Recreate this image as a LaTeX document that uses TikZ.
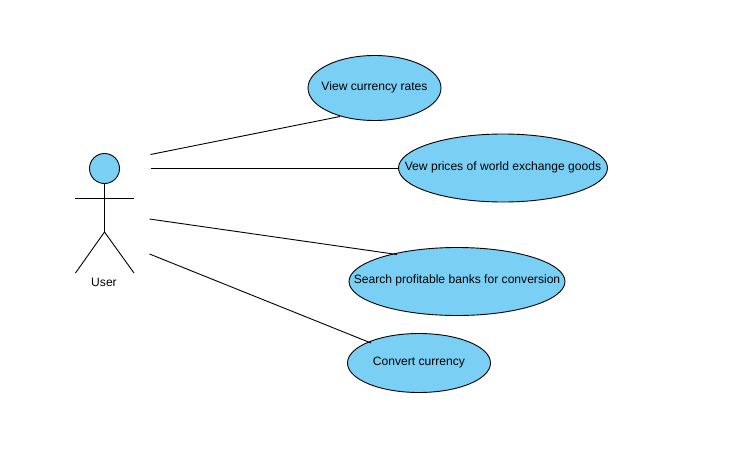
\documentclass[tikz,border=0pt]{standalone}
\usepackage{fontspec}
\setmainfont{Liberation Sans}
\usetikzlibrary{shapes.geometric}
\definecolor{usefill}{RGB}{122,207,245}
\newcommand{\uctext}[1]{\raisebox{-4.3pt}{\smash{\makebox[0pt]{#1}}}}
\tikzset{
  usecase/.style={ellipse,draw=black,fill=usefill,inner sep=0pt,font=\fontsize{12.1pt}{14pt}\selectfont},
  stick/.style={draw=black,line width=.9pt},
  assoc/.style={draw=black,line width=.9pt}
}
\begin{document}
\begin{tikzpicture}[x=1pt,y=-1pt,line width=.9pt]
 \useasboundingbox (0,0) rectangle (733,450);
 % actor
 \node[circle,draw=black,fill=usefill,minimum size=30pt,inner sep=0pt] (head) at (104.5,168.5) {};
 \coordinate (hip) at (104.5,232);
 \coordinate (armL) at (75,198.5);
 \coordinate (armR) at (134,198.5);
 \coordinate (footL) at (75.5,273);
 \coordinate (footR) at (134,273);
 \draw[stick] (head.south) -- (hip);
 \draw[stick] (armL) -- (armR);
 \draw[stick] (footL) -- (hip) -- (footR);
 \node[font=\fontsize{12.1pt}{14pt}\selectfont] (user) at (104,282) {User};
 % use cases
 \node[usecase,minimum width=133pt,minimum height=65pt] (rates) at (374.5,88) {\uctext{View currency rates}};
 \node[usecase,minimum width=209pt,minimum height=68pt] (goods) at (503,168) {\uctext{Vew prices of world exchange goods}};
 \node[usecase,minimum width=216pt,minimum height=68pt] (banks) at (457,281.5) {\uctext{Search profitable banks for conversion}};
 \node[usecase,minimum width=143pt,minimum height=59pt] (convert) at (419,363) {\uctext{Convert currency}};
 % associations
 \coordinate (a1) at (150.5,154.5);
 \coordinate (a2) at (150.5,168);
 \coordinate (a3) at (149.5,219);
 \coordinate (a4) at (149.5,254);
 \coordinate (e1) at (340,116.5);
 \coordinate (e3) at (397,254.5);
 \coordinate (e4) at (371,343);
 \draw[assoc] (a1) -- (e1);
 \draw[assoc] (a2) -- (goods.west);
 \draw[assoc] (a3) -- (e3);
 \draw[assoc] (a4) -- (e4);
\end{tikzpicture}
\end{document}
